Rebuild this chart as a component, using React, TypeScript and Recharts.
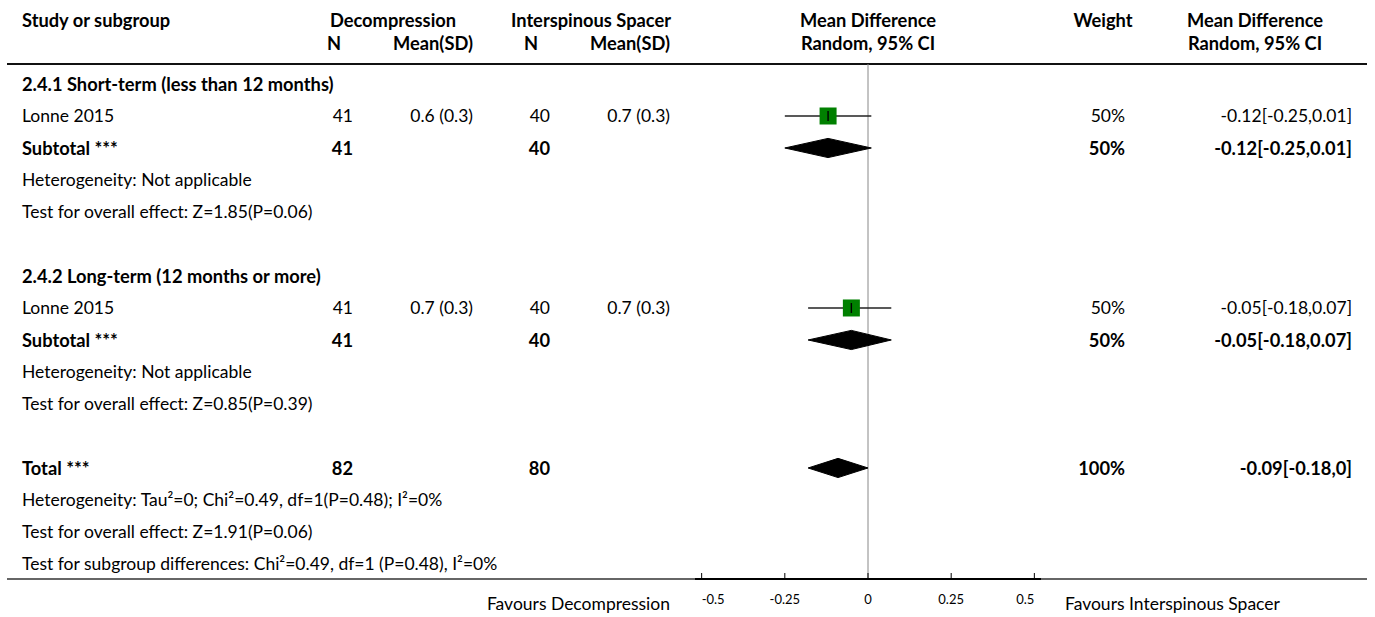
import React from 'react';
import { ComposedChart, Scatter, XAxis, YAxis, ReferenceLine, ErrorBar, Customized } from 'recharts';

const FONT = 'Lato, "Noto Sans", sans-serif';
const FS_BOLD = 18.3;
const FS_REG = 17.5;

// ---------- table rows (one entry per row of the forest plot) ----------
const rowLabels = [
  '2.4.1 Short-term (less than 12 months)',
  'Lonne 2015',
  'Subtotal ***',
  'Heterogeneity: Not applicable',
  'Test for overall effect: Z=1.85(P=0.06)',
  '',
  '2.4.2 Long-term (12 months or more)',
  'Lonne 2015',
  'Subtotal ***',
  'Heterogeneity: Not applicable',
  'Test for overall effect: Z=0.85(P=0.39)',
  '',
  'Total ***',
  'Heterogeneity: Tau²=0; Chi²=0.49, df=1(P=0.48); I²=0%',
  'Test for overall effect: Z=1.91(P=0.06)',
  'Test for subgroup differences: Chi²=0.49, df=1 (P=0.48), I²=0%',
];
const rowBold = [true, false, true, false, false, false, true, false, true, false, false, false, true, false, false, false];
const decN = ['', '41', '41', '', '', '', '', '41', '41', '', '', '', '82', '', '', ''];
const decMean = ['', '0.6 (0.3)', '', '', '', '', '', '0.7 (0.3)', '', '', '', '', '', '', '', ''];
const intN = ['', '40', '40', '', '', '', '', '40', '40', '', '', '', '80', '', '', ''];
const intMean = ['', '0.7 (0.3)', '', '', '', '', '', '0.7 (0.3)', '', '', '', '', '', '', '', ''];
const weightText = ['', '50%', '50%', '', '', '', '', '50%', '50%', '', '', '', '100%', '', '', ''];
const mdText = ['', '-0.12[-0.25,0.01]', '-0.12[-0.25,0.01]', '', '', '', '', '-0.05[-0.18,0.07]', '-0.05[-0.18,0.07]', '', '', '', '-0.09[-0.18,0]', '', '', ''];

// ---------- individual studies ----------
const studyRows = [1, 7];
const studyMeans = [-0.12, -0.05];
const studyLo = [-0.25, -0.18];
const studyHi = [0.01, 0.07];

// ---------- pooled estimates (diamonds) ----------
const diamondRows = [2, 8, 12];
const diamondMeans = [-0.12, -0.05, -0.09];
const diamondLo = [-0.25, -0.18, -0.18];
const diamondHi = [0.01, 0.07, 0];

// ---------- axis ----------
const xTicks = [-0.5, -0.25, 0, 0.25, 0.5];
const xTickLabels = ['-0.5', '-0.25', '0', '0.25', '0.5'];

const DIAMOND_HALF = 0.3; // in row units

const tableData = rowLabels.map((_, i) => ({ x: 0, y: i, row: i }));

const studyData = studyRows.map((r, i) => ({
  x: studyMeans[i],
  y: r,
  err: [studyMeans[i] - studyLo[i], studyHi[i] - studyMeans[i]],
}));

const diamondData = diamondRows.map((r, i) => [
  { x: diamondLo[i], y: r },
  { x: diamondMeans[i], y: r - DIAMOND_HALF },
  { x: diamondHi[i], y: r },
  { x: diamondMeans[i], y: r + DIAMOND_HALF },
  { x: diamondLo[i], y: r },
]);

const COL = {
  study: 22,
  decN: 353,
  decMean: 473,
  intN: 550,
  intMean: 670,
  weight: 1125,
  md: 1352,
};

const txt = (x: number, y: number, s: string, bold: boolean, anchor: 'start' | 'middle' | 'end') =>
  s ? (
    <text
      x={x}
      y={y}
      textAnchor={anchor}
      dominantBaseline="central"
      fontFamily={FONT}
      fontSize={bold ? FS_BOLD : FS_REG}
      fontWeight={bold ? 700 : 400}
      fill="#000"
    >
      {s}
    </text>
  ) : null;

const RowShape = (props: any) => {
  const { cy } = props;
  const i = (props.payload ? props.payload.row : props.row) as number;
  const b = rowBold[i];
  const y = cy;
  return (
    <g>
      {txt(COL.study, y, rowLabels[i], b, 'start')}
      {txt(COL.decN, y, decN[i], b, 'end')}
      {txt(COL.decMean, y, decMean[i], b, 'end')}
      {txt(COL.intN, y, intN[i], b, 'end')}
      {txt(COL.intMean, y, intMean[i], b, 'end')}
      {txt(COL.weight, y, weightText[i], b, 'end')}
      {txt(COL.md, y, mdText[i], b, 'end')}
    </g>
  );
};

const XTick = (props: any) => {
  const { x, y, payload, index } = props;
  const last = xTicks.length - 1;
  const anchor = index === 0 ? 'start' : index === last ? 'end' : 'middle';
  return (
    <g>
      <line x1={x} x2={x} y1={y - 8} y2={y - 14} stroke="#000" strokeWidth={1} />
      <text x={x} y={y + 17} textAnchor={anchor} fontFamily={FONT} fontSize={13} fill="#000">
        {xTickLabels[xTicks.indexOf(payload.value)]}
      </text>
    </g>
  );
};

const StudyShape = (p: any) => {
  const { cx, cy } = p;
  const s = 17;
  return (
    <g>
      <rect x={cx - s / 2} y={cy - s / 2} width={s} height={s} fill="#008000" />
      <line x1={cx} x2={cx} y1={cy - 5} y2={cy + 5} stroke="#000" strokeWidth={1.4} />
    </g>
  );
};

const NoShape = () => <g />;

const Header = () => (
  <g>
    {txt(COL.study, 20, 'Study or subgroup', true, 'start')}
    {txt(393, 20, 'Decompression', true, 'middle')}
    {txt(591, 20, 'Interspinous Spacer', true, 'middle')}
    {txt(868, 20, 'Mean Difference', true, 'middle')}
    {txt(1103, 20, 'Weight', true, 'middle')}
    {txt(1255, 20, 'Mean Difference', true, 'middle')}
    {txt(341, 43, 'N', true, 'end')}
    {txt(COL.decMean, 43, 'Mean(SD)', true, 'end')}
    {txt(538, 43, 'N', true, 'end')}
    {txt(COL.intMean, 43, 'Mean(SD)', true, 'end')}
    {txt(868, 43, 'Random, 95% CI', true, 'middle')}
    {txt(1255, 43, 'Random, 95% CI', true, 'middle')}
    <line x1={7} x2={1367} y1={64} y2={64} stroke="#111" strokeWidth={2} />
    <line x1={7} x2={1367} y1={579} y2={579} stroke="#333" strokeWidth={1.5} />
    {txt(670, 603, 'Favours Decompression', false, 'end')}
    {txt(1065, 603, 'Favours Interspinous Spacer', false, 'start')}
  </g>
);

export default function App() {
  return (
    <div style={{ position: 'absolute', left: 0, top: 0, width: 1375, height: 617, background: '#fff' }}>
      <ComposedChart width={1375} height={617} margin={{ top: 64, right: 334, bottom: 8, left: 695 }}>
        <XAxis
          type="number"
          dataKey="x"
          domain={[-0.52, 0.52]}
          ticks={xTicks}
          interval={0}
          height={30}
          tickLine={false}
          axisLine={{ stroke: '#000', strokeWidth: 2 }}
          tick={<XTick />}
        />
        <YAxis type="number" dataKey="y" domain={[-0.625, 15.47]} reversed hide />
        <Customized component={<Header />} />
        <ReferenceLine x={0} stroke="#888" strokeWidth={1} />
        <Scatter data={tableData} fill="#000" shape={<RowShape />} isAnimationActive={false} />
        {diamondData.map((d, i) => (
          <Scatter
            key={'d' + i}
            data={d}
            fill="#000"
            line={{ stroke: '#000', fill: '#000', strokeWidth: 1 }}
            lineType="joint"
            shape={<NoShape />}
            isAnimationActive={false}
          />
        ))}
        <Scatter data={studyData} fill="#008000" shape={<StudyShape />} isAnimationActive={false} />
        <Scatter data={studyData} fill="#000" shape={<NoShape />} isAnimationActive={false}>
          <ErrorBar dataKey="err" direction="x" width={0} stroke="#222" strokeWidth={1.3} />
        </Scatter>
      </ComposedChart>
    </div>
  );
}
